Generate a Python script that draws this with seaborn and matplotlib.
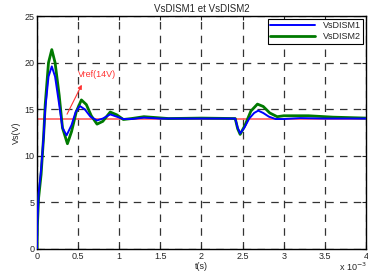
import numpy as np
import pandas as pd
import matplotlib
matplotlib.use("Agg")
import matplotlib.pyplot as plt
import seaborn as sns

# time in ms (axis shows x 10^-3 s), voltage in V
t1 = [0, 0.005, 0.02, 0.05, 0.08, 0.10, 0.14, 0.18, 0.22, 0.27, 0.31, 0.36, 0.42, 0.47,
      0.52, 0.58, 0.65, 0.73, 0.80, 0.89, 0.97, 1.05, 1.15, 1.30, 1.50, 2.41, 2.44, 2.47,
      2.52, 2.58, 2.64, 2.69, 2.75, 2.82, 2.90, 3.00, 3.20, 3.50, 4.00]
v1 = [0, 3.0, 6.0, 8.5, 12.0, 15.0, 18.5, 19.6, 18.5, 15.5, 13.0, 12.2, 13.3, 14.7,
      15.35, 15.0, 14.2, 13.8, 14.0, 14.45, 14.2, 13.95, 13.95, 14.1, 14.0, 14.0, 13.0, 12.4,
      13.0, 14.0, 14.6, 14.85, 14.6, 14.2, 13.95, 13.95, 14.05, 14.0, 14.0]

t2 = [0, 0.005, 0.02, 0.05, 0.08, 0.10, 0.14, 0.18, 0.22, 0.27, 0.31, 0.37, 0.42, 0.48,
      0.54, 0.60, 0.66, 0.73, 0.80, 0.89, 0.97, 1.05, 1.15, 1.30, 1.45, 1.60, 2.00, 2.41,
      2.44, 2.47, 2.53, 2.60, 2.68, 2.75, 2.83, 2.92, 3.00, 3.30, 3.60, 4.00]
v2 = [0, 2.5, 5.5, 8.0, 12.0, 15.5, 20.0, 21.4, 20.0, 16.5, 13.0, 11.3, 12.6, 14.8,
      16.0, 15.5, 14.3, 13.4, 13.7, 14.7, 14.4, 13.9, 14.0, 14.2, 14.1, 14.0, 14.05, 14.0,
      12.9, 12.3, 13.3, 14.8, 15.55, 15.3, 14.6, 14.2, 14.3, 14.3, 14.15, 14.05]

vref = 14

df = pd.concat([
    pd.DataFrame({"t": t1, "v": v1, "s": "VsDISM1"}),
    pd.DataFrame({"t": t2, "v": v2, "s": "VsDISM2"}),
])

sns.set_style("white")
plt.rcParams["font.family"] = ["Liberation Sans", "DejaVu Sans"]

fig = plt.figure(figsize=(3.68, 2.77), dpi=100)
ax = fig.add_axes([0.1005, 0.1011, 0.8941, 0.8409])

ax.axhline(vref, color="#ff6b6b", lw=1.3, zorder=2)
sns.lineplot(data=df[df.s == "VsDISM2"], x="t", y="v", color="#007a00", lw=2.0,
             ax=ax, label="VsDISM2", zorder=3)
sns.lineplot(data=df[df.s == "VsDISM1"], x="t", y="v", color="#0000ff", lw=1.4,
             ax=ax, label="VsDISM1", zorder=4)

ax.set_xlim(0, 4)
ax.set_ylim(0, 25)
ax.set_xticks([0, 0.5, 1, 1.5, 2, 2.5, 3, 3.5, 4])
ax.set_xticklabels(["0", "0.5", "1", "1.5", "2", "2.5", "3", "3.5", "4"])
ax.set_yticks([0, 5, 10, 15, 20, 25])
ax.tick_params(labelsize=6.5, direction="in", length=3, top=True, right=True,
               bottom=True, left=True, pad=2)
ax.grid(True, color="#333333", ls=(0, (6, 5)), lw=0.9)
for sp in ax.spines.values():
    sp.set_color("black")
    sp.set_linewidth(1.0)

ax.set_xlabel("t(s)", fontsize=6.5, labelpad=1)
ax.set_ylabel("Vs(V)", fontsize=6.5, labelpad=2)
ax.set_title("VsDISM1 et VsDISM2", fontsize=7, pad=3)
fig.text(0.998, 0.015, "x 10$^{-3}$", fontsize=6.5, ha="right", va="bottom")

ax.annotate("", xy=(0.56, 17.9), xytext=(0.35, 14.2),
            arrowprops=dict(arrowstyle="-|>", color="#ff3333", lw=0.8, mutation_scale=6))
ax.text(0.5, 18.7, "Vref(14V)", fontsize=6.5, color="#ff3333", va="center")

h, l = ax.get_legend_handles_labels()
leg = ax.legend(h[::-1], l[::-1], loc="upper right", fontsize=6.5, frameon=True,
                fancybox=False, edgecolor="black", framealpha=1, borderpad=0.3,
                handlelength=5, labelspacing=0.2, borderaxespad=0.3)
leg.get_frame().set_linewidth(0.8)

fig.savefig("out.png", dpi=100)
